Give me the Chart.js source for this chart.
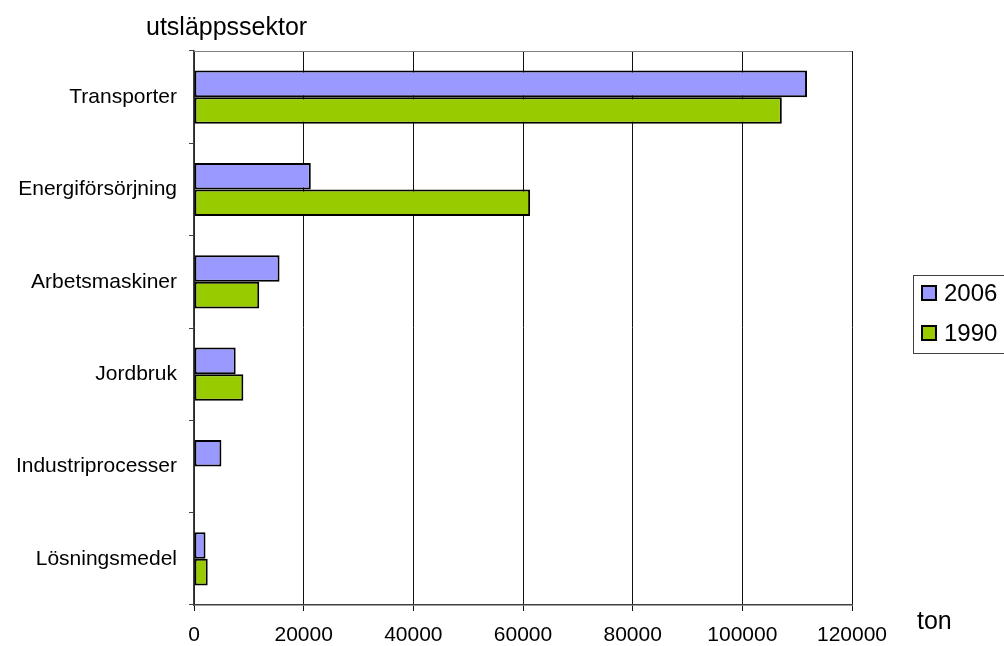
<!DOCTYPE html>
<html>
<head>
<meta charset="utf-8">
<script src="https://cdn.jsdelivr.net/npm/chart.js@4.4.1/dist/chart.umd.min.js"></script>
<style>
  html, body { margin: 0; padding: 0; background: #fff; }
  #wrap { position: relative; width: 1004px; height: 646px; }
</style>
</head>
<body>
<div id="wrap"><canvas id="myChart" width="1004" height="646"></canvas></div>
<script>
// data
var sectors = ['Transporter', 'Energiförsörjning', 'Arbetsmaskiner', 'Jordbruk', 'Industriprocesser', 'Lösningsmedel'];
var values2006 = [111800, 21300, 15600, 7600, 5000, 2100];
var values1990 = [107200, 61300, 11900, 9000, null, 2500];
var seriesNames = ['2006', '1990'];
var xTicks = [0, 20000, 40000, 60000, 80000, 100000, 120000];

var FONT = 'Liberation Sans, Arial, sans-serif';

// extra texts + legend box drawn next to the plot
var extras = {
    id: 'extras',
    afterDraw: function(chart) {
        var ctx = chart.ctx;
        var area = chart.chartArea;
        ctx.save();

        // grey frame line on top of the plot
        ctx.strokeStyle = '#808080';
        ctx.lineWidth = 1;
        ctx.beginPath();
        ctx.moveTo(area.left, area.top + 0.5);
        ctx.lineTo(area.right, area.top + 0.5);
        ctx.stroke();

        ctx.fillStyle = '#000';
        ctx.textBaseline = 'middle';
        ctx.textAlign = 'left';
        ctx.font = '25px ' + FONT;
        ctx.fillText('utsläppssektor', 146, 28);
        ctx.font = '25px ' + FONT;
        ctx.fillText('ton', 917, 622);

        // legend
        ctx.strokeStyle = '#404040';
        ctx.lineWidth = 1;
        ctx.strokeRect(913.5, 275.5, 100, 78);
        var ds = chart.data.datasets;
        for (var i = 0; i < ds.length; i++) {
            var cy = 293 + i * 40;
            ctx.fillStyle = ds[i].backgroundColor;
            ctx.fillRect(922, cy - 7, 14, 14);
            ctx.strokeStyle = '#000';
            ctx.lineWidth = 2;
            ctx.strokeRect(922, cy - 7, 14, 14);
            ctx.fillStyle = '#000';
            ctx.font = '24px ' + FONT;
            ctx.fillText(ds[i].label, 944, cy + 1);
        }
        ctx.restore();
    }
};

var ctx = document.getElementById('myChart').getContext('2d');
var myChart = new Chart(ctx, {
    type: 'bar',
    data: {
        labels: sectors,
        datasets: [
            {
                label: seriesNames[0],
                data: values2006,
                backgroundColor: '#9999FF',
                borderColor: '#000',
                borderWidth: 2,
                borderSkipped: false,
                categoryPercentage: 0.575,
                barPercentage: 1
            },
            {
                label: seriesNames[1],
                data: values1990,
                backgroundColor: '#99CC00',
                borderColor: '#000',
                borderWidth: 2,
                borderSkipped: false,
                categoryPercentage: 0.575,
                barPercentage: 1
            }
        ]
    },
    options: {
        indexAxis: 'y',
        responsive: false,
        animation: false,
        maintainAspectRatio: false,
        layout: { padding: { top: 51, right: 152, left: 0, bottom: 0 } },
        plugins: {
            legend: { display: false },
            tooltip: { enabled: false }
        },
        scales: {
            x: {
                min: 0,
                max: 120000,
                afterBuildTicks: function(scale) {
                    scale.ticks = xTicks.map(function(v) { return { value: v }; });
                },
                afterFit: function(scale) { scale.height = 41; },
                ticks: {
                    color: '#000',
                    font: { family: FONT, size: 21 },
                    padding: 12,
                    maxRotation: 0,
                    callback: function(v) { return String(v); }
                },
                grid: { color: '#111', lineWidth: 1, tickLength: 6 },
                border: { color: '#404040', width: 1.5 }
            },
            y: {
                afterFit: function(scale) { scale.width = 194; },
                ticks: {
                    color: '#000',
                    font: { family: FONT, size: 21 },
                    padding: 12
                },
                grid: { drawOnChartArea: false, color: '#404040', tickLength: 5, offset: true },
                border: { color: '#404040', width: 1.5 }
            }
        }
    },
    plugins: [extras]
});
</script>
</body>
</html>
